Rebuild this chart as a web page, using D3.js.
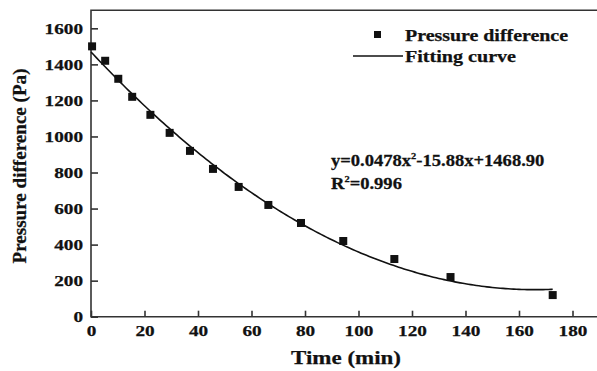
<!DOCTYPE html>
<html>
<head>
<meta charset="utf-8">
<title>pressure difference</title>
<script type="text/javascript" src="https://cdn.jsdelivr.net/npm/d3@7"></script>
<style>
  body { margin: 0; background: #fff; }
  svg text { font-family: "Liberation Serif", "Times New Roman", serif; font-weight: bold; fill: #111; stroke: #111; stroke-width: 0.25px; }
</style>
</head>
<body>
<script type="text/javascript">

// measured points (time in min, pressure difference in Pa)
var times = [0.4, 5.3, 10.2, 15.4, 22.2, 29.4, 37, 45.6, 55.2, 66.3, 78.5, 94.3, 113.4, 134.4, 172.6]
var pressures = [1500, 1420, 1320, 1220, 1120, 1020, 920, 820, 720, 620, 520, 420, 320, 220, 120]

// fitted polynomial as printed on the chart: a*x^2 + b*x + c
var fitCoef = [0.0478, -15.88, 1468.90]
var fitRange = [0, 172.6]

var xTicks = [0, 20, 40, 60, 80, 100, 120, 140, 160, 180]
var yTicks = [0, 200, 400, 600, 800, 1000, 1200, 1400, 1600]

var w = 597
var h = 371
var svg = d3.select("body").append("svg").attr("width", w).attr("height", h)

var x = d3.scaleLinear().domain([0, 190]).range([91, 91 + 190 * 2.675])
var y = d3.scaleLinear().domain([0, 1700]).range([316.7, 10.3])

// the original figure is stretched sideways, so squeeze text to measured widths
function fitWidth(sel, width) {
  sel.each(function(){
    var wd = typeof width === "function" ? width.call(this) : width
    d3.select(this).attr("textLength", wd).attr("lengthAdjust", "spacingAndGlyphs")
  })
}

// frame: left, bottom and top lines
svg.append("path")
  .attr("d", "M" + x(190) + "," + y(1700) + "H" + x(0) + "V" + y(0) + "H" + x(190))
  .attr("fill", "none").attr("stroke", "#333").attr("stroke-width", 1.6)

var xAxis = svg.append("g").attr("transform", "translate(0," + y(0) + ")")
  .call(d3.axisBottom(x).tickValues(xTicks).tickFormat(d3.format("d"))
    .tickSizeInner(-6).tickSizeOuter(0).tickPadding(9))
var yAxis = svg.append("g").attr("transform", "translate(" + x(0) + ",0)")
  .call(d3.axisLeft(y).tickValues(yTicks).tickFormat(d3.format("d"))
    .tickSizeInner(-7).tickSizeOuter(0).tickPadding(8))

;[xAxis, yAxis].forEach(function(a){
  a.attr("font-family", null).attr("font-size", null)
  a.select(".domain").remove()
  a.selectAll(".tick line").attr("stroke", "#333").attr("stroke-width", 1.6)
  a.selectAll(".tick text").attr("fill", "#111")
    .style("font-family", "'Liberation Serif', serif").style("font-size", "15px")
  fitWidth(a.selectAll(".tick text"), function(){ return this.textContent.length * 9.6 })
})

// fitting curve
var curvePts = d3.range(fitRange[0], fitRange[1], 1).concat([fitRange[1]]).map(function(t){
  return [t, fitCoef[0] * t * t + fitCoef[1] * t + fitCoef[2]]
})
svg.append("path")
  .datum(curvePts)
  .attr("fill", "none").attr("stroke", "#111").attr("stroke-width", 1.6)
  .attr("d", d3.line().x(function(d){ return x(d[0]) }).y(function(d){ return y(d[1]) }))

// measured squares
var s = 8
svg.selectAll(".pt")
  .data(times)
  .enter().append("rect")
  .attr("class", "pt")
  .attr("x", function(d){ return x(d) - s / 2 })
  .attr("y", function(d, i){ return y(pressures[i]) - s / 2 })
  .attr("width", s).attr("height", s)
  .attr("fill", "#111")

// legend
svg.append("rect").attr("x", 374).attr("y", 31).attr("width", 7).attr("height", 7).attr("fill", "#111")
svg.append("text").attr("x", 405).attr("y", 41).style("font-size", "16px").text("Pressure difference")
  .call(fitWidth, 163)
svg.append("line").attr("x1", 353).attr("x2", 403).attr("y1", 56).attr("y2", 56)
  .attr("stroke", "#111").attr("stroke-width", 1.6)
svg.append("text").attr("x", 405).attr("y", 62).style("font-size", "16px").text("Fitting curve")
  .call(fitWidth, 111)

// equation
var eq = svg.append("g").attr("transform", "translate(331,166) scale(1.16,1)")
var eqText = eq.append("text").style("font-size", "16px")
eqText.append("tspan").text("y=0.0478x")
eqText.append("tspan").attr("dy", -7).style("font-size", "9px").text("2")
eqText.append("tspan").attr("dy", 7).text("-15.88x+1468.90")
var r2 = svg.append("g").attr("transform", "translate(331,189) scale(1.16,1)")
var r2Text = r2.append("text").style("font-size", "16px")
r2Text.append("tspan").text("R")
r2Text.append("tspan").attr("dy", -7).style("font-size", "9px").text("2")
r2Text.append("tspan").attr("dy", 7).text("=0.996")

// axis titles
svg.append("text").attr("x", 346).attr("y", 364).attr("text-anchor", "middle")
  .style("font-size", "19px").text("Time (min)").call(fitWidth, 110)
svg.append("text").attr("transform", "translate(26,166) rotate(-90)").attr("text-anchor", "middle")
  .style("font-size", "19px").text("Pressure difference (Pa)").call(fitWidth, 195)

</script>
</body>
</html>
